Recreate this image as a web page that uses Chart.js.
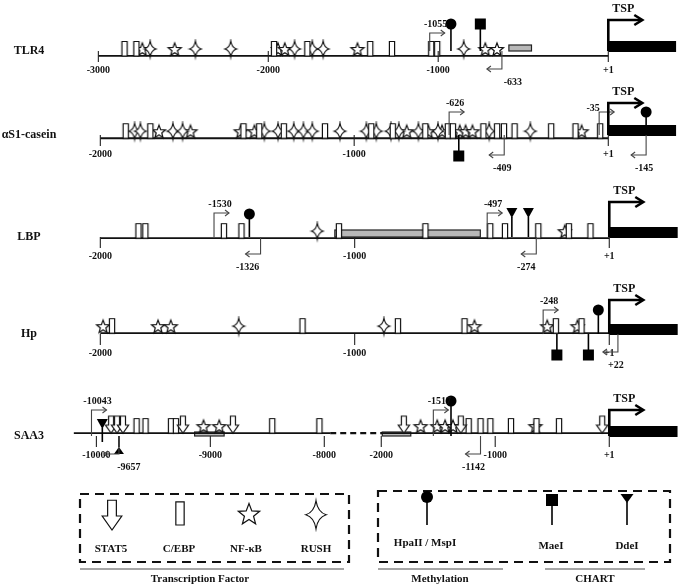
<!DOCTYPE html>
<html>
<head>
<meta charset="utf-8">
<script src="https://cdn.jsdelivr.net/npm/chart.js@4.4.1/dist/chart.umd.min.js"></script>
<style>
  body { margin: 0; background: #fff; }
</style>
</head>
<body>
<canvas id="myChart" width="687" height="587"></canvas>
<script>
const W = 687, H = 587;
const FONT = "'Liberation Serif', 'Times New Roman', serif";

// ---- positions in bp relative to the TSP (+1) ----
const geneNames = ['TLR4', 'αS1-casein', 'LBP', 'Hp', 'SAA3'];

const tlr4Cebp = [-2846, -2776, -1966, -1770, -1400, -1272, -1041, -1006];
const tlr4Nfkb = [-2741, -2551, -1943, -1903, -1475, -723, -654];
const tlr4Rush = [-2695, -2429, -2221, -1845, -1741, -1677, -850];
const tlr4Hpa = [-925];
const tlr4Mae = [[-752, 1]];
const tlr4Gray = [[-584, -451]];
const tlr4Fwd = [[-1050, '-1055']];
const tlr4Rev = [[-625, '-633']];
const tlr4Ticks = [-3000, -2000, -1000, 1];
const tlr4TickLabels = ['-3000', '-2000', '-1000', '+1'];

const cs1Cebp = [-1900, -1803, -1436, -1374, -1277, -1115, -933, -848, -720, -631, -611, -491, -437, -410, -368, -224, -128, -31];
const cs1Nfkb = [-1769, -1645, -1447, -1393, -793, -708, -654, -584, -561, -534, -104];
const cs1Rush = [-1865, -1842, -1714, -1676, -1354, -1300, -1238, -1200, -1165, -1056, -952, -913, -855, -824, -747, -670, -468, -306];
const cs1Hpa = [150];
const cs1Mae = [[-588, -1]];
const cs1Fwd = [[-626, '-626'], [-35, '-35']];
const cs1Rev = [[-409, '-409'], [150, '-145']];
const cs1Ticks = [-2000, -1000, 1];
const cs1TickLabels = ['-2000', '-1000', '+1'];

const lbpCebp = [-1850, -1823, -1514, -1445, -1062, -722, -467, -409, -278, -158, -73];
const lbpNfkb = [-174];
const lbpRush = [-1147];
const lbpHpa = [-1414];
const lbpDde = [[-382, 1], [-317, 1]];
const lbpGray = [[-1078, -506]];
const lbpFwd = [[-1553, '-1530'], [-479, '-497']];
const lbpRev = [[-1370, '-1326'], [-286, '-274']];
const lbpTicks = [-2000, -1000, 1];
const lbpTickLabels = ['-2000', '-1000', '+1'];

const hpCebp = [-1954, -1205, -830, -568, -209, -108];
const hpNfkb = [-1989, -1773, -1723, -529, -243, -124];
const hpRush = [-1456, -885];
const hpHpa = [-42];
const hpMae = [[-205, -1], [-81, -1]];
const hpFwd = [[-259, '-248']];
const hpRev = [[35, '+22']];
const hpTicks = [-2000, -1000, 1];
const hpTickLabels = ['-2000', '-1000', '+1'];

const saaCebp = [-9647, -9569, -9345, -9302, -8457, -8043, -1233, -1129, -1043, -862, -638, -440];
const saaNfkb = [-9060, -8922, -1655, -1509, -1440, -1371, -647];
const saaStat5 = [-9871, -9819, -9767, -9241, -8802, -1802, -1302, -61];
const saaHpa = [-1388];
const saaDde = [[-9948, 1], [-9802, -1]];
const saaGray = [[-9138, -8879], [-1991, -1741]];
const saaFwd = [[-10043, '-10043'], [-1543, '-1517']];
const saaRev = [[-9802, '-9657'], [-1129, '-1142']];
const saaTicks = [-10000, -9000, -8000, -2000, -1000, 1];
const saaTickLabels = ['-10000', '-9000', '-8000', '-2000', '-1000', '+1'];

// promoter line segments [from, to, dashed]
const tlr4Line = [[-3000, 1, false]];
const stdLine = [[-2000, 1, false]];
const saaLine = [[-10198, -7948, false], [-7948, -1991, true], [-1991, 1, false]];

// ---- layout ----
const rowY = [51, 135, 237, 334, 436];
const pxAnchor = [[94, 613], [96, 613], [96, 614], [96, 614], [92, 614]];
const bodyEnd = [400, 268, 270, 270, 600];
const markUp = [27, 23, 23, 24, 35];
const ddeTop = [0, 0, 29, 0, 17];
const fwdH = [18, 23, 24, 24, 26];
const revD = [18, 20, 17, 18, 18];
const tspH = [31, 32, 35, 34, 26];
const grayH = [6, 0, 7, 0, 4];
const fwdNudge = { '-35': [-12, 5] };
const revNudge = { '-633': 13, '-1326': -11, '-274': -8, '-9657': 12, '-1142': -5 };

// SAA3 axis is broken between -8000 and -2000
const same = bp => bp;
const saaX = bp => (bp < -5000 ? bp : bp - 5500);

const tracks = [
  { cebp: tlr4Cebp, nfkb: tlr4Nfkb, rush: tlr4Rush, stat5: [], hpa: tlr4Hpa, mae: tlr4Mae, dde: [], gray: tlr4Gray,
    fwd: tlr4Fwd, rev: tlr4Rev, ticks: tlr4Ticks, tickLabels: tlr4TickLabels, line: tlr4Line, toX: same, left: -3000 },
  { cebp: cs1Cebp, nfkb: cs1Nfkb, rush: cs1Rush, stat5: [], hpa: cs1Hpa, mae: cs1Mae, dde: [], gray: [],
    fwd: cs1Fwd, rev: cs1Rev, ticks: cs1Ticks, tickLabels: cs1TickLabels, line: stdLine, toX: same, left: -2000 },
  { cebp: lbpCebp, nfkb: lbpNfkb, rush: lbpRush, stat5: [], hpa: lbpHpa, mae: [], dde: lbpDde, gray: lbpGray,
    fwd: lbpFwd, rev: lbpRev, ticks: lbpTicks, tickLabels: lbpTickLabels, line: stdLine, toX: same, left: -2000 },
  { cebp: hpCebp, nfkb: hpNfkb, rush: hpRush, stat5: [], hpa: hpHpa, mae: hpMae, dde: [], gray: [],
    fwd: hpFwd, rev: hpRev, ticks: hpTicks, tickLabels: hpTickLabels, line: stdLine, toX: same, left: -2000 },
  { cebp: saaCebp, nfkb: saaNfkb, rush: [], stat5: saaStat5, hpa: saaHpa, mae: [], dde: saaDde, gray: saaGray,
    fwd: saaFwd, rev: saaRev, ticks: saaTicks, tickLabels: saaTickLabels, line: saaLine, toX: saaX, left: -10000 }
];

// ---- symbol shapes (x,y = point on the promoter line) ----
function starPath(g, cx, cy, ro, ri) {
  g.beginPath();
  for (let j = 0; j < 10; j++) {
    const r = j % 2 ? ri : ro;
    const a = -Math.PI / 2 + j * Math.PI / 5;
    const px = cx + r * Math.cos(a), py = cy + r * Math.sin(a);
    if (j) g.lineTo(px, py); else g.moveTo(px, py);
  }
  g.closePath();
}

const shapes = {
  cebp(g, x, y, s) {
    g.beginPath();
    g.rect(x - 2.6 * s, y - 14.5 * s, 5.2 * s, 14.5 * s);
  },
  nfkb(g, x, y, s) {
    starPath(g, x, y - 6.2 * s, 6.8 * s, 2.9 * s);
  },
  rush(g, x, y, s) {
    const cx = x, cy = y - 7 * s, rx = 5.8 * s, ry = 8 * s, k = 0.18;
    g.beginPath();
    g.moveTo(cx, cy - ry);
    g.quadraticCurveTo(cx + rx * k, cy - ry * k, cx + rx, cy);
    g.quadraticCurveTo(cx + rx * k, cy + ry * k, cx, cy + ry);
    g.quadraticCurveTo(cx - rx * k, cy + ry * k, cx - rx, cy);
    g.quadraticCurveTo(cx - rx * k, cy - ry * k, cx, cy - ry);
    g.closePath();
  },
  stat5(g, x, y, s) {
    g.beginPath();
    g.moveTo(x - 2.5 * s, y - 17 * s);
    g.lineTo(x + 2.5 * s, y - 17 * s);
    g.lineTo(x + 2.5 * s, y - 8 * s);
    g.lineTo(x + 5.6 * s, y - 8 * s);
    g.lineTo(x, y);
    g.lineTo(x - 5.6 * s, y - 8 * s);
    g.lineTo(x - 2.5 * s, y - 8 * s);
    g.closePath();
  }
};

function paintShape(g, kind, x, y, s, lw) {
  shapes[kind](g, x, y, s);
  g.fillStyle = '#fff';
  g.fill();
  g.lineWidth = lw;
  g.strokeStyle = '#111';
  g.stroke();
}

function symbolImage(kind, w, h) {
  const c = document.createElement('canvas');
  c.width = w;
  c.height = h;
  paintShape(c.getContext('2d'), kind, w / 2, h / 2, 1, 1.2);
  return c;
}

const images = {
  cebp: symbolImage('cebp', 10, 34),
  nfkb: symbolImage('nfkb', 18, 30),
  rush: symbolImage('rush', 16, 34),
  stat5: symbolImage('stat5', 14, 38)
};

// ---- datasets and scales ----
const datasets = [];
const scales = { y: { type: 'linear', display: false, min: 0, max: H, reverse: true } };

tracks.forEach((t, i) => {
  const ax = 'x' + i, y = rowY[i];
  const b0 = t.toX(t.left), b1 = t.toX(1);
  const k = (pxAnchor[i][1] - pxAnchor[i][0]) / (b1 - b0);
  const min = b0 - pxAnchor[i][0] / k;
  scales[ax] = { type: 'linear', display: false, min: min, max: min + W / k };

  t.line.forEach(([a, b, dashed]) => {
    datasets.push({
      data: [{ x: t.toX(a), y }, { x: t.toX(b), y }],
      showLine: true,
      borderColor: '#111',
      borderWidth: dashed ? 2.2 : 1.8,
      borderDash: dashed ? [6, 4] : [],
      pointRadius: 0,
      xAxisID: ax,
      order: 10
    });
  });

  ['stat5', 'cebp', 'rush', 'nfkb'].forEach(kind => {
    if (!t[kind].length) return;
    datasets.push({
      data: t[kind].map(bp => ({ x: t.toX(bp), y })),
      pointStyle: images[kind],
      pointRadius: 5,
      xAxisID: ax,
      order: 1
    });
  });
});

// ---- everything that is not a plain point ----
function arrowHead(g, x, y, dir, len, half) {
  g.beginPath();
  g.moveTo(x - dir * len, y - half);
  g.lineTo(x, y);
  g.lineTo(x - dir * len, y + half);
  g.stroke();
}

function lollipop(g, x, y, top) {
  g.lineWidth = 1.6;
  g.strokeStyle = '#000';
  g.beginPath();
  g.moveTo(x, y);
  g.lineTo(x, top);
  g.stroke();
}

function drawLegend(g) {
  g.save();
  g.strokeStyle = '#111';
  g.lineWidth = 2.2;
  g.setLineDash([9, 6]);
  g.strokeRect(80, 494, 269, 68);
  g.strokeRect(378, 491, 292, 71);
  g.setLineDash([]);

  paintShape(g, 'stat5', 112, 530, 1.75, 1.2);
  paintShape(g, 'cebp', 180, 525, 1.6, 1.2);
  paintShape(g, 'nfkb', 249, 525, 1.65, 1.2);
  paintShape(g, 'rush', 316, 527, 1.75, 1.2);

  g.fillStyle = '#111';
  g.textAlign = 'center';
  g.textBaseline = 'middle';
  g.font = `bold 11px ${FONT}`;
  g.fillText('STAT5', 111, 549);
  g.fillText('C/EBP', 179, 549);
  g.fillText('NF-κB', 246, 549);
  g.fillText('RUSH', 316, 549);

  // methylation / CHART
  lollipop(g, 427, 525, 497);
  g.fillStyle = '#000';
  g.beginPath();
  g.arc(427, 497, 6, 0, Math.PI * 2);
  g.fill();
  lollipop(g, 552, 525, 500);
  g.fillRect(546, 494, 12, 12);
  lollipop(g, 627, 525, 502);
  g.beginPath();
  g.moveTo(620.5, 494);
  g.lineTo(633.5, 494);
  g.lineTo(627, 503);
  g.closePath();
  g.fill();

  g.fillStyle = '#111';
  g.fillText('HpaII / MspI', 425, 543);
  g.fillText('MaeI', 551, 546);
  g.fillText('DdeI', 627, 546);

  g.strokeStyle = '#888';
  g.lineWidth = 1.5;
  [[80, 344], [378, 503], [545, 645]].forEach(([a, b]) => {
    g.beginPath();
    g.moveTo(a, 569);
    g.lineTo(b, 569);
    g.stroke();
  });
  g.fillStyle = '#111';
  g.fillText('Transcription Factor', 200, 579);
  g.fillText('Methylation', 440, 579);
  g.fillText('CHART', 595, 579);
  g.restore();
}

const promoterMarks = {
  id: 'promoterMarks',
  beforeDatasetsDraw(chart) {
    const g = chart.ctx;
    tracks.forEach((t, i) => {
      const sx = chart.scales['x' + i], y = rowY[i];
      const px = bp => sx.getPixelForValue(t.toX(bp));
      g.save();
      t.gray.forEach(([a, b]) => {
        g.fillStyle = '#b8b8b8';
        g.fillRect(px(a), y - grayH[i], px(b) - px(a), grayH[i]);
        g.strokeStyle = '#222';
        g.lineWidth = 1.2;
        g.strokeRect(px(a), y - grayH[i], px(b) - px(a), grayH[i]);
      });
      // transcribed region
      g.fillStyle = '#000';
      g.fillRect(px(1), y - 10, px(bodyEnd[i]) - px(1), 11);
      g.restore();
    });
  },
  afterDatasetsDraw(chart) {
    const g = chart.ctx;
    g.save();
    g.textAlign = 'center';
    g.textBaseline = 'middle';
    tracks.forEach((t, i) => {
      const sx = chart.scales['x' + i], y = rowY[i];
      const px = bp => sx.getPixelForValue(t.toX(bp));

      // gene name
      g.fillStyle = '#111';
      g.font = `bold 12px ${FONT}`;
      g.fillText(geneNames[i], 29, y);

      // ticks
      g.strokeStyle = '#222';
      g.lineWidth = 1.1;
      g.font = `bold 10px ${FONT}`;
      t.ticks.forEach((bp, j) => {
        const x = px(bp);
        g.beginPath();
        g.moveTo(x, y);
        g.lineTo(x, y + 11);
        g.stroke();
        g.fillText(t.tickLabels[j], x, y + 19);
      });

      // methylation sites (HpaII/MspI)
      t.hpa.forEach(bp => {
        const x = px(bp), top = y - markUp[i];
        lollipop(g, x, y, top);
        g.fillStyle = '#000';
        g.beginPath();
        g.arc(x, top, 5.5, 0, Math.PI * 2);
        g.fill();
      });

      // MaeI sites
      t.mae.forEach(([bp, side]) => {
        const x = px(bp), c = side > 0 ? y - markUp[i] : y + 21;
        lollipop(g, x, y, c);
        g.fillStyle = '#000';
        g.fillRect(x - 5.5, c - 5.5, 11, 11);
      });

      // DdeI sites
      t.dde.forEach(([bp, side]) => {
        const x = px(bp);
        g.fillStyle = '#000';
        if (side > 0) {
          const top = y - ddeTop[i];
          lollipop(g, x, y + (i === 4 ? 6 : 0), top + 9);
          g.beginPath();
          g.moveTo(x - 5.5, top);
          g.lineTo(x + 5.5, top);
          g.lineTo(x, top + 10);
        } else {
          lollipop(g, x, y, y + 11);
          g.beginPath();
          g.moveTo(x, y + 11);
          g.lineTo(x + 5, y + 18);
          g.lineTo(x - 5, y + 18);
        }
        g.closePath();
        g.fill();
      });

      // transcription start arrows
      g.strokeStyle = '#444';
      g.lineWidth = 1.1;
      g.fillStyle = '#111';
      g.font = `bold 10px ${FONT}`;
      t.fwd.forEach(([bp, label]) => {
        const x = px(bp), top = y - fwdH[i];
        g.beginPath();
        g.moveTo(x, y);
        g.lineTo(x, top);
        g.lineTo(x + 15, top);
        g.stroke();
        arrowHead(g, x + 15, top, 1, 4, 3);
        const n = fwdNudge[label] || [0, 0];
        g.fillText(label, x + 6 + n[0], top - 9 + n[1]);
      });
      t.rev.forEach(([bp, label]) => {
        const x = px(bp), bot = y + revD[i];
        g.beginPath();
        g.moveTo(x, y);
        g.lineTo(x, bot);
        g.lineTo(x - 15, bot);
        g.stroke();
        arrowHead(g, x - 15, bot, -1, 4, 3);
        g.fillText(label, x - 2 + (revNudge[label] || 0), bot + 13);
      });

      // TSP
      const x1 = px(1), top = y - tspH[i];
      g.strokeStyle = '#000';
      g.lineWidth = 2.6;
      g.beginPath();
      g.moveTo(x1, y);
      g.lineTo(x1, top);
      g.lineTo(x1 + 33, top);
      g.stroke();
      arrowHead(g, x1 + 34, top, 1, 8, 5);
      g.font = `bold 12px ${FONT}`;
      g.fillText('TSP', x1 + 15, top - 11);
    });
    g.restore();
  },
  afterDraw(chart) {
    drawLegend(chart.ctx);
  }
};

new Chart(document.getElementById('myChart'), {
  type: 'scatter',
  data: { datasets: datasets },
  options: {
    responsive: false,
    animation: false,
    events: [],
    layout: { padding: 0 },
    scales: scales,
    plugins: {
      legend: { display: false },
      tooltip: { enabled: false }
    }
  },
  plugins: [promoterMarks]
});
</script>
</body>
</html>
